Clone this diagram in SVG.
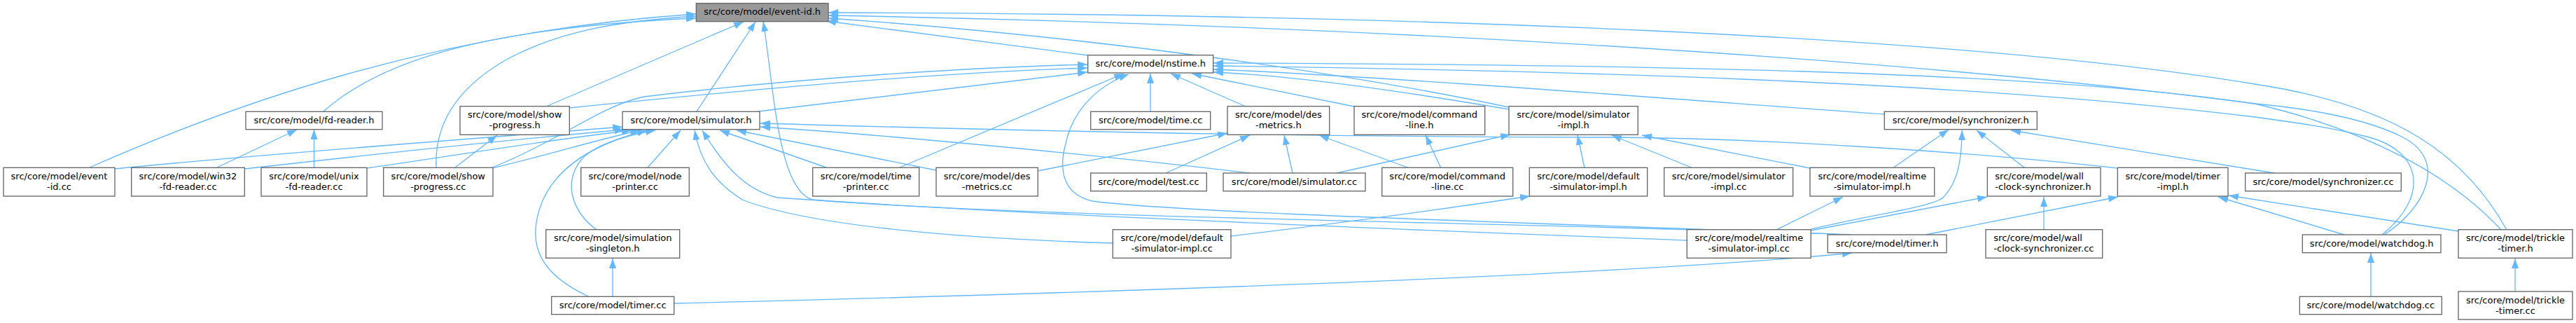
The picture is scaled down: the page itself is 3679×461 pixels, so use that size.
<svg xmlns="http://www.w3.org/2000/svg" width="3679" height="461" viewBox="0 0 3679 461">
<style>
.n rect{fill:#ffffff;stroke:#666666;stroke-width:1.33}
.n.main rect{fill:#999999;stroke:#666666}
.n text{font-family:"DejaVu Sans","Liberation Sans",sans-serif;font-size:13px;fill:#000000;text-anchor:middle}
.n text.l{text-anchor:start}
#edges path{fill:none;stroke:#63b8ff;stroke-width:1.33;marker-end:url(#ah)}
</style>
<defs>
<marker id="ah" markerUnits="userSpaceOnUse" markerWidth="14" markerHeight="10" refX="14" refY="5" orient="auto" viewBox="0 0 14 10">
<path d="M0,0 L14,5 L0,10 z" fill="#63b8ff"/>
</marker>
</defs>
<rect x="0" y="0" width="3679" height="461" fill="#ffffff"/>
<g id="edges">
<path d="M128,239 C330,150 620,45 994,20"/>
<path d="M623,239 C620,170 660,120 727,83 C800,45 880,30 994,23"/>
<path d="M462,159 C540,90 680,40 994,26"/>
<path d="M164,241 C350,222 650,200 889,181"/>
<path d="M349,241 C500,224 700,202 892,185"/>
<path d="M524,240 C650,222 780,200 902,186"/>
<path d="M703,240 C780,222 850,200 914,186"/>
<path d="M840,423 C770,390 755,350 770,300 C785,250 830,210 924,186"/>
<path d="M852,328 C815,300 805,260 830,228 C850,205 900,192 936,186"/>
<path d="M703,239 C800,200 860,150 920,138 C1150,110 1400,96 1553,92"/>
<path d="M650,239 L710,193"/>
<path d="M310,239 L424,185"/>
<path d="M448.5,239 L448.5,185"/>
<path d="M780,152 L1062,31"/>
<path d="M813,154 C1000,135 1300,105 1553,97"/>
<path d="M995,159 L1079,31"/>
<path d="M1083,159 L1553,103"/>
<path d="M1554,79 L1180,30"/>
<path d="M2155,153 C1950,110 1600,55 1183,26"/>
<path d="M2155,156 C2000,130 1850,108 1733,103"/>
<path d="M3580,328 C3520,220 3420,150 3220,120 C2800,50 2000,20 1183,18"/>
<path d="M3405,335 C3460,300 3500,230 3430,195 C3380,170 3300,155 3220,148 C2700,80 1900,35 1183,22"/>
<path d="M3572,328 C3500,250 3380,185 3220,148 C2900,100 2300,92 1733,90"/>
<path d="M3402,335 C3470,280 3460,215 3380,195 C3330,182 3280,175 3220,167 C2800,115 2200,100 1733,94"/>
<path d="M2692,163 C2500,150 2000,110 1733,99"/>
<path d="M1779,152 L1672,105"/>
<path d="M1934,152 L1702,105"/>
<path d="M1643,159 L1643,105"/>
<path d="M1285,239 L1605,105"/>
<path d="M2643,335 C2200,318 1700,305 1560,287 C1510,275 1515,230 1522,205 C1530,165 1560,125 1612,106"/>
<path d="M2643,335 C2200,318 1500,312 1160,285 C1110,270 1105,120 1090,31"/>
<path d="M2409,343 C2200,335 1500,310 1110,282 C1060,270 1030,230 1003,186"/>
<path d="M1589,347 C1350,340 1150,320 1060,285 C1020,260 1000,230 992,186"/>
<path d="M1758,337 C1900,320 2050,300 2185,280"/>
<path d="M925,239 L972,186"/>
<path d="M1180,239 L1028,186"/>
<path d="M1337,243 L1052,186"/>
<path d="M1482,244 L1753,190"/>
<path d="M1665,247 L1785,193"/>
<path d="M1846,247 L1834,193"/>
<path d="M1909,247 L2157,192"/>
<path d="M1785,247 C1600,225 1300,195 1086,181"/>
<path d="M3024,240 C2800,215 2500,197 2300,196 C1800,195 1400,185 1086,176"/>
<path d="M2058,240 L2036,193"/>
<path d="M2013,240 L1884,193"/>
<path d="M2263,240 L2253,193"/>
<path d="M2418,240 L2302,193"/>
<path d="M2585,240 L2345,193"/>
<path d="M2703,240 L2783,185"/>
<path d="M2537,328 L2632,281"/>
<path d="M2586,329 L2838,281"/>
<path d="M2587,327 C2680,305 2760,295 2775,282 C2795,262 2802,230 2802,186"/>
<path d="M2892,240 L2823,186"/>
<path d="M2919,328 L2919,281"/>
<path d="M3248,247 L2872,186"/>
<path d="M2750,335 L3025,281"/>
<path d="M3348,335 L3168,281"/>
<path d="M3511,330 L3183,279"/>
<path d="M3386,423 L3386,361"/>
<path d="M3592,416 L3592,369"/>
<path d="M963,433 C1500,420 2300,395 2645,361"/>
<path d="M875,423 L875,369"/>
</g>
<g id="node-event-id-h" class="n main"><rect x="994.3" y="4.7" width="188.7" height="26"/><text x="1088.7" y="21">src/core/model/event-id.h</text></g>
<g id="node-nstime-h" class="n"><rect x="1553.7" y="78.7" width="179" height="25.3"/><text x="1643.2" y="95.2">src/core/model/nstime.h</text></g>
<g id="node-fd-reader-h" class="n"><rect x="351" y="159.3" width="195" height="25.4"/><text x="448.5" y="175.8">src/core/model/fd-reader.h</text></g>
<g id="node-show-progress-h" class="n"><rect x="657" y="151.7" width="156.3" height="40.6"/><text x="735.2" y="168.4">src/core/model/show</text><text x="735.2" y="183.4">-progress.h</text></g>
<g id="node-simulator-h" class="n"><rect x="889" y="159.3" width="196" height="25.4"/><text x="987" y="175.8">src/core/model/simulator.h</text></g>
<g id="node-time-cc" class="n"><rect x="1557.7" y="159.3" width="171" height="25.4"/><text x="1643.2" y="175.8">src/core/model/time.cc</text></g>
<g id="node-des-metrics-h" class="n"><rect x="1753" y="151.7" width="145.7" height="40.6"/><text x="1825.8" y="168.4">src/core/model/des</text><text x="1825.8" y="183.4">-metrics.h</text></g>
<g id="node-command-line-h" class="n"><rect x="1934" y="151.7" width="186.7" height="40.6"/><text x="2027.3" y="168.4">src/core/model/command</text><text x="2027.3" y="183.4">-line.h</text></g>
<g id="node-simulator-impl-h" class="n"><rect x="2155" y="151.7" width="184.3" height="40.6"/><text x="2247.2" y="168.4">src/core/model/simulator</text><text x="2247.2" y="183.4">-impl.h</text></g>
<g id="node-synchronizer-h" class="n"><rect x="2691.3" y="159.3" width="218" height="25.4"/><text x="2800.3" y="175.8">src/core/model/synchronizer.h</text></g>
<g id="node-event-id-cc" class="n"><rect x="5" y="239.3" width="159" height="40.7"/><text x="84.5" y="256">src/core/model/event</text><text x="84.5" y="271">-id.cc</text></g>
<g id="node-win32-fd-reader-cc" class="n"><rect x="187.7" y="239.3" width="161.6" height="40.7"/><text x="268.5" y="256">src/core/model/win32</text><text x="268.5" y="271">-fd-reader.cc</text></g>
<g id="node-unix-fd-reader-cc" class="n"><rect x="373" y="239.3" width="151" height="40.7"/><text x="448.5" y="256">src/core/model/unix</text><text x="448.5" y="271">-fd-reader.cc</text></g>
<g id="node-show-progress-cc" class="n"><rect x="547.7" y="239.3" width="156.3" height="40.7"/><text x="625.8" y="256">src/core/model/show</text><text x="625.8" y="271">-progress.cc</text></g>
<g id="node-node-printer-cc" class="n"><rect x="829.7" y="239.3" width="154.6" height="40.7"/><text x="907" y="256">src/core/model/node</text><text x="907" y="271">-printer.cc</text></g>
<g id="node-time-printer-cc" class="n"><rect x="1160.7" y="239.3" width="152" height="40.7"/><text x="1236.7" y="256">src/core/model/time</text><text x="1236.7" y="271">-printer.cc</text></g>
<g id="node-des-metrics-cc" class="n"><rect x="1337" y="239.3" width="145.3" height="40.7"/><text x="1409.7" y="256">src/core/model/des</text><text x="1409.7" y="271">-metrics.cc</text></g>
<g id="node-test-cc" class="n"><rect x="1557.7" y="247" width="165.6" height="25.7"/><text x="1640.5" y="263.6">src/core/model/test.cc</text></g>
<g id="node-simulator-cc" class="n"><rect x="1747" y="247" width="203" height="25.7"/><text x="1848.5" y="263.6">src/core/model/simulator.cc</text></g>
<g id="node-command-line-cc" class="n"><rect x="1973.7" y="239.3" width="187" height="40.7"/><text x="2067.2" y="256">src/core/model/command</text><text x="2067.2" y="271">-line.cc</text></g>
<g id="node-default-simulator-impl-h" class="n"><rect x="2184.3" y="239.3" width="168.4" height="40.7"/><text x="2268.5" y="256">src/core/model/default</text><text x="2268.5" y="271">-simulator-impl.h</text></g>
<g id="node-simulator-impl-cc" class="n"><rect x="2376.7" y="239.3" width="184" height="40.7"/><text x="2468.7" y="256">src/core/model/simulator</text><text x="2468.7" y="271">-impl.cc</text></g>
<g id="node-realtime-simulator-impl-h" class="n"><rect x="2585" y="239.3" width="177.7" height="40.7"/><text x="2673.8" y="256">src/core/model/realtime</text><text x="2673.8" y="271">-simulator-impl.h</text></g>
<g id="node-wall-clock-synchronizer-h" class="n"><rect x="2838.3" y="239.3" width="161.7" height="40.7"/><text class="l" x="2849.3" y="256">src/core/model/wall</text><text class="l" x="2849.3" y="271">-clock-synchronizer.h</text></g>
<g id="node-timer-impl-h" class="n"><rect x="3024.3" y="239.3" width="157.7" height="40.7"/><text x="3103.2" y="256">src/core/model/timer</text><text x="3103.2" y="271">-impl.h</text></g>
<g id="node-synchronizer-cc" class="n"><rect x="3206.7" y="247" width="222.6" height="25.7"/><text x="3318" y="263.6">src/core/model/synchronizer.cc</text></g>
<g id="node-simulation-singleton-h" class="n"><rect x="779.7" y="327.7" width="191" height="40.6"/><text x="875.2" y="344.4">src/core/model/simulation</text><text x="875.2" y="359.4">-singleton.h</text></g>
<g id="node-default-simulator-impl-cc" class="n"><rect x="1589.3" y="327.7" width="168.7" height="40.6"/><text x="1673.7" y="344.4">src/core/model/default</text><text x="1673.7" y="359.4">-simulator-impl.cc</text></g>
<g id="node-realtime-simulator-impl-cc" class="n"><rect x="2409.3" y="327.7" width="177" height="40.6"/><text x="2497.8" y="344.4">src/core/model/realtime</text><text x="2497.8" y="359.4">-simulator-impl.cc</text></g>
<g id="node-timer-h" class="n"><rect x="2610.3" y="335" width="169.7" height="25.7"/><text x="2695.2" y="351.6">src/core/model/timer.h</text></g>
<g id="node-wall-clock-synchronizer-cc" class="n"><rect x="2836" y="327.7" width="166.7" height="40.6"/><text class="l" x="2847.3" y="344.4">src/core/model/wall</text><text class="l" x="2847.3" y="359.4">-clock-synchronizer.cc</text></g>
<g id="node-watchdog-h" class="n"><rect x="3288.3" y="335" width="197.7" height="25.7"/><text x="3387.2" y="351.6">src/core/model/watchdog.h</text></g>
<g id="node-trickle-timer-h" class="n"><rect x="3511" y="327.7" width="163" height="40.6"/><text x="3592.5" y="344.4">src/core/model/trickle</text><text x="3592.5" y="359.4">-timer.h</text></g>
<g id="node-timer-cc" class="n"><rect x="787.7" y="423.3" width="175" height="25.4"/><text x="875.2" y="439.8">src/core/model/timer.cc</text></g>
<g id="node-watchdog-cc" class="n"><rect x="3284.3" y="423.3" width="203" height="25.4"/><text x="3385.8" y="439.8">src/core/model/watchdog.cc</text></g>
<g id="node-trickle-timer-cc" class="n"><rect x="3511" y="416" width="163" height="40"/><text x="3592.5" y="432.7">src/core/model/trickle</text><text x="3592.5" y="447.7">-timer.cc</text></g>
</svg>
